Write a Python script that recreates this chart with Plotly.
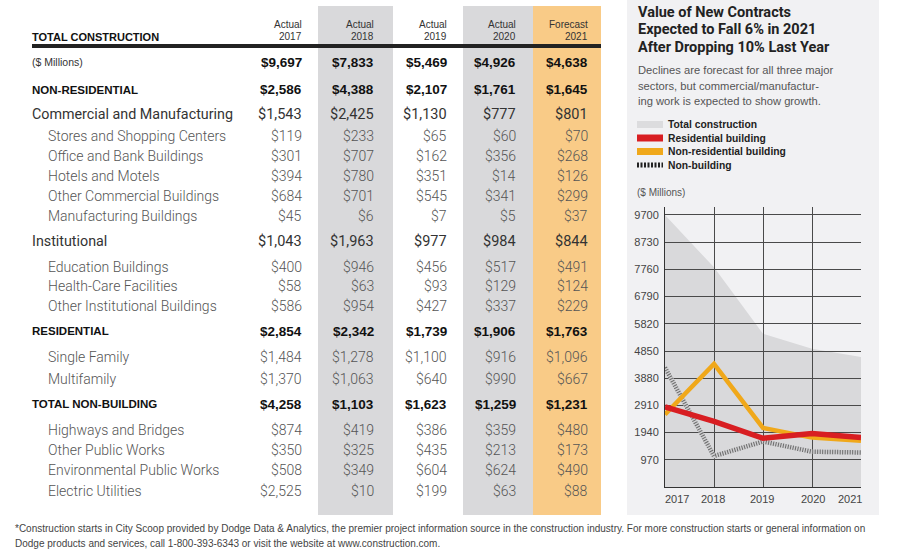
import plotly.graph_objects as go

# ---------------- DATA ----------------
years = [2017, 2018, 2019, 2020, 2021]
col_kind = ["Actual", "Actual", "Actual", "Actual", "Forecast"]

row_labels = [
    "($ Millions)", "NON-RESIDENTIAL", "Commercial and Manufacturing",
    "Stores and Shopping Centers", "Office and Bank Buildings", "Hotels and Motels",
    "Other Commercial Buildings", "Manufacturing Buildings", "Institutional",
    "Education Buildings", "Health-Care Facilities", "Other Institutional Buildings",
    "RESIDENTIAL", "Single Family", "Multifamily", "TOTAL NON-BUILDING",
    "Highways and Bridges", "Other Public Works", "Environmental Public Works",
    "Electric Utilities",
]
row_kind = ["units", "major", "group", "sub", "sub", "sub", "sub", "sub", "group",
            "sub", "sub", "sub", "major", "sub", "sub", "major", "sub", "sub", "sub", "sub"]

v2017 = [9697, 2586, 1543, 119, 301, 394, 684, 45, 1043, 400, 58, 586, 2854, 1484, 1370, 4258, 874, 350, 508, 2525]
v2018 = [7833, 4388, 2425, 233, 707, 780, 701, 6, 1963, 946, 63, 954, 2342, 1278, 1063, 1103, 419, 325, 349, 10]
v2019 = [5469, 2107, 1130, 65, 162, 351, 545, 7, 977, 456, 93, 427, 1739, 1100, 640, 1623, 386, 435, 604, 199]
v2020 = [4926, 1761, 777, 60, 356, 14, 341, 5, 984, 517, 129, 337, 1906, 916, 990, 1259, 359, 213, 624, 63]
v2021 = [4638, 1645, 801, 70, 268, 126, 299, 37, 844, 491, 124, 229, 1763, 1096, 667, 1231, 480, 173, 490, 88]
columns = [v2017, v2018, v2019, v2020, v2021]

# chart series
total_construction = [9697, 7833, 5469, 4926, 4638]
residential = [2854, 2342, 1739, 1906, 1763]
non_residential = [2586, 4388, 2107, 1761, 1645]
non_building = [4258, 1103, 1623, 1259, 1231]
y_ticks = [970, 1940, 2910, 3880, 4850, 5820, 6790, 7760, 8730, 9700]

legend_labels = ["Total construction", "Residential building",
                 "Non-residential building", "Non-building"]

title_lines = ["Value of New Contracts", "Expected to Fall 6% in 2021",
               "After Dropping 10% Last Year"]
sub_lines = ["Declines are forecast for all three major",
             "sectors, but commercial/manufactur-",
             "ing work is expected to show growth."]
foot_lines = [
    "*Construction starts in City Scoop provided by Dodge Data & Analytics, the premier project information source in the construction industry. For more construction starts or general information on",
    "Dodge products and services, call 1-800-393-6343 or visit the website at www.construction.com.",
]

# ---------------- LAYOUT HELPERS ----------------
W, H = 900, 550
def px(x): return x / W
def py(y): return 1 - y / H

SANS = "Liberation Sans, Arial, sans-serif"
REG = "Roboto, Liberation Sans, Arial, sans-serif"

C_GRAY_BAND = "#d9d9db"
C_ORANGE_BAND = "#f9cb87"
C_PANEL = "#f1f1f3"
C_AREA = "#d9d9db"
C_RED = "#d81e22"
C_ORANGE = "#f0a81a"
C_GRID = "#4a4a4a"

row_y = [62, 90, 114, 136, 156, 176, 196, 216, 241, 267, 286, 306, 331, 357, 379,
         404, 430, 450, 470, 491]
col_right = [302, 374, 447, 516, 588]

fig = go.Figure()

# chart traces: area in subplot 1, lines in subplot 2 (grid drawn above the area)
fig.add_trace(go.Scatter(x=years, y=total_construction, mode="lines", fill="tozeroy",
                         fillcolor=C_AREA, line=dict(width=0, color=C_AREA),
                         hoverinfo="skip", showlegend=False, xaxis="x", yaxis="y"))
fig.add_trace(go.Scatter(x=years, y=non_building, mode="lines",
                         line=dict(width=4.5, color="#cfcfd1"), hoverinfo="skip",
                         showlegend=False, xaxis="x2", yaxis="y2"))
fig.add_trace(go.Scatter(x=years, y=non_building, mode="lines",
                         line=dict(width=4.5, color="#6a6a6a", dash="1px,1.5px"),
                         hoverinfo="skip", showlegend=False, xaxis="x2", yaxis="y2"))
fig.add_trace(go.Scatter(x=years, y=non_residential, mode="lines",
                         line=dict(width=4.5, color=C_ORANGE), hoverinfo="skip",
                         showlegend=False, xaxis="x2", yaxis="y2"))
fig.add_trace(go.Scatter(x=years, y=residential, mode="lines",
                         line=dict(width=5.5, color=C_RED), hoverinfo="skip",
                         showlegend=False, xaxis="x2", yaxis="y2"))

shapes = []
# chart panel
shapes.append(dict(type="rect", xref="paper", yref="paper", x0=px(627), x1=px(879),
                   y0=py(515), y1=py(0), fillcolor=C_PANEL, line=dict(width=0), layer="below"))
# column bands
for (a, b, c) in [(318, 393, C_GRAY_BAND), (463, 533, C_GRAY_BAND), (533, 601, C_ORANGE_BAND)]:
    shapes.append(dict(type="rect", xref="paper", yref="paper", x0=px(a), x1=px(b),
                       y0=py(515), y1=py(6), fillcolor=c, line=dict(width=0), layer="below"))
# thick header line
shapes.append(dict(type="line", xref="paper", yref="paper", x0=px(32), x1=px(601),
                   y0=py(46), y1=py(46), line=dict(color="#222", width=4)))

annotations = []
def txt(x, y, s, size, color, family, anchor="left", weight=None):
    f = dict(size=size, color=color, family=family)
    if weight is not None:
        f["weight"] = weight
    annotations.append(dict(x=px(x), y=py(y), xref="paper", yref="paper", text=s,
                            showarrow=False, xanchor=anchor, yanchor="middle", font=f,
                            borderpad=0, borderwidth=0))

# table header
txt(32, 37.5, "<b>TOTAL CONSTRUCTION</b>", 11, "#111", SANS)
for i, yr in enumerate(years):
    txt(col_right[i], 25, col_kind[i], 10, "#333", SANS, "right")
    txt(col_right[i], 36.5, str(yr), 10, "#333", SANS, "right")

# table rows
for r, lab in enumerate(row_labels):
    k = row_kind[r]
    y = row_y[r]
    if k == "units":
        txt(32, y, lab, 10.5, "#333", SANS)
    elif k == "major":
        txt(32, y, "<b>" + lab + "</b>", 11.5, "#111", SANS)
    elif k == "group":
        txt(32, y, lab, 14.3, "#333", REG)
    else:
        txt(48, y, lab, 14, "#555", REG, weight=300)
    for i, col in enumerate(columns):
        s = "${:,}".format(col[r])
        if k in ("units", "major"):
            txt(col_right[i], y, "<b>" + s + "</b>", 13.5, "#111", SANS, "right")
        elif k == "group":
            txt(col_right[i], y, s, 14.5, "#333", REG, "right")
        else:
            txt(col_right[i], y, s, 14, "#555", REG, "right", weight=300)

# right panel text
for j, s in enumerate(title_lines):
    txt(638, [12, 29, 47][j], "<b>" + s + "</b>", 14.5, "#222", REG)
for j, s in enumerate(sub_lines):
    txt(638, [70, 86, 101][j], s, 11.2, "#555", SANS)

# legend
leg_y = [124.5, 138, 151.5, 165]
sw_col = ["#dcdcde", C_RED, C_ORANGE]
for j in range(3):
    shapes.append(dict(type="rect", xref="paper", yref="paper", x0=px(637), x1=px(663),
                       y0=py(leg_y[j] + 3.5), y1=py(leg_y[j] - 3.5), fillcolor=sw_col[j],
                       line=dict(width=0)))
shapes.append(dict(type="line", xref="paper", yref="paper", x0=px(637), x1=px(663),
                   y0=py(leg_y[3]), y1=py(leg_y[3]),
                   line=dict(color="#222", width=5, dash="2px,1.5px")))
for j, s in enumerate(legend_labels):
    txt(668, leg_y[j], "<b>" + s + "</b>", 10.3, "#222", SANS)

txt(637, 192, "($ Millions)", 10, "#555", SANS)

# x labels for chart
x_shift = [12, -1, -1, 1, -11]
for i, yr in enumerate(years):
    annotations.append(dict(x=yr, y=py(499), xref="x2", yref="paper", text=str(yr),
                            showarrow=False, xanchor="center", yanchor="middle",
                            xshift=x_shift[i], borderpad=0, borderwidth=0,
                            font=dict(size=11, color="#444", family=SANS)))

# footnote
txt(15, 528, foot_lines[0], 10, "#444", SANS)
txt(15, 543, foot_lines[1], 10, "#444", SANS)

dom_x = [px(665), px(861)]
dom_y = [py(487), py(207)]
y_range = [0, 9985]
fig.update_layout(
    width=W, height=H, margin=dict(l=0, r=0, t=0, b=0),
    paper_bgcolor="white", plot_bgcolor="rgba(0,0,0,0)",
    shapes=shapes, annotations=annotations, showlegend=False,
    xaxis=dict(domain=dom_x, range=[2017, 2021], anchor="y", visible=False, fixedrange=True),
    yaxis=dict(domain=dom_y, range=y_range, anchor="x", visible=False, fixedrange=True),
    xaxis2=dict(domain=dom_x, range=[2017, 2021], anchor="y2", tickvals=years,
                showticklabels=False, showgrid=True, gridcolor=C_GRID, gridwidth=1,
                showline=True, linecolor="#333", linewidth=1, zeroline=False, ticks="",
                fixedrange=True),
    yaxis2=dict(domain=dom_y, range=y_range, anchor="x2", tickvals=y_ticks,
                ticktext=[str(t) for t in y_ticks], showgrid=True, gridcolor=C_GRID,
                gridwidth=1, showline=True, linecolor="#333", linewidth=1, zeroline=False,
                ticks="", ticklabelstandoff=3,
                tickfont=dict(size=11, color="#444", family=SANS), fixedrange=True),
)

fig.write_html("out.html", config={"displayModeBar": False},
               post_script="document.body.style.margin='0';")
